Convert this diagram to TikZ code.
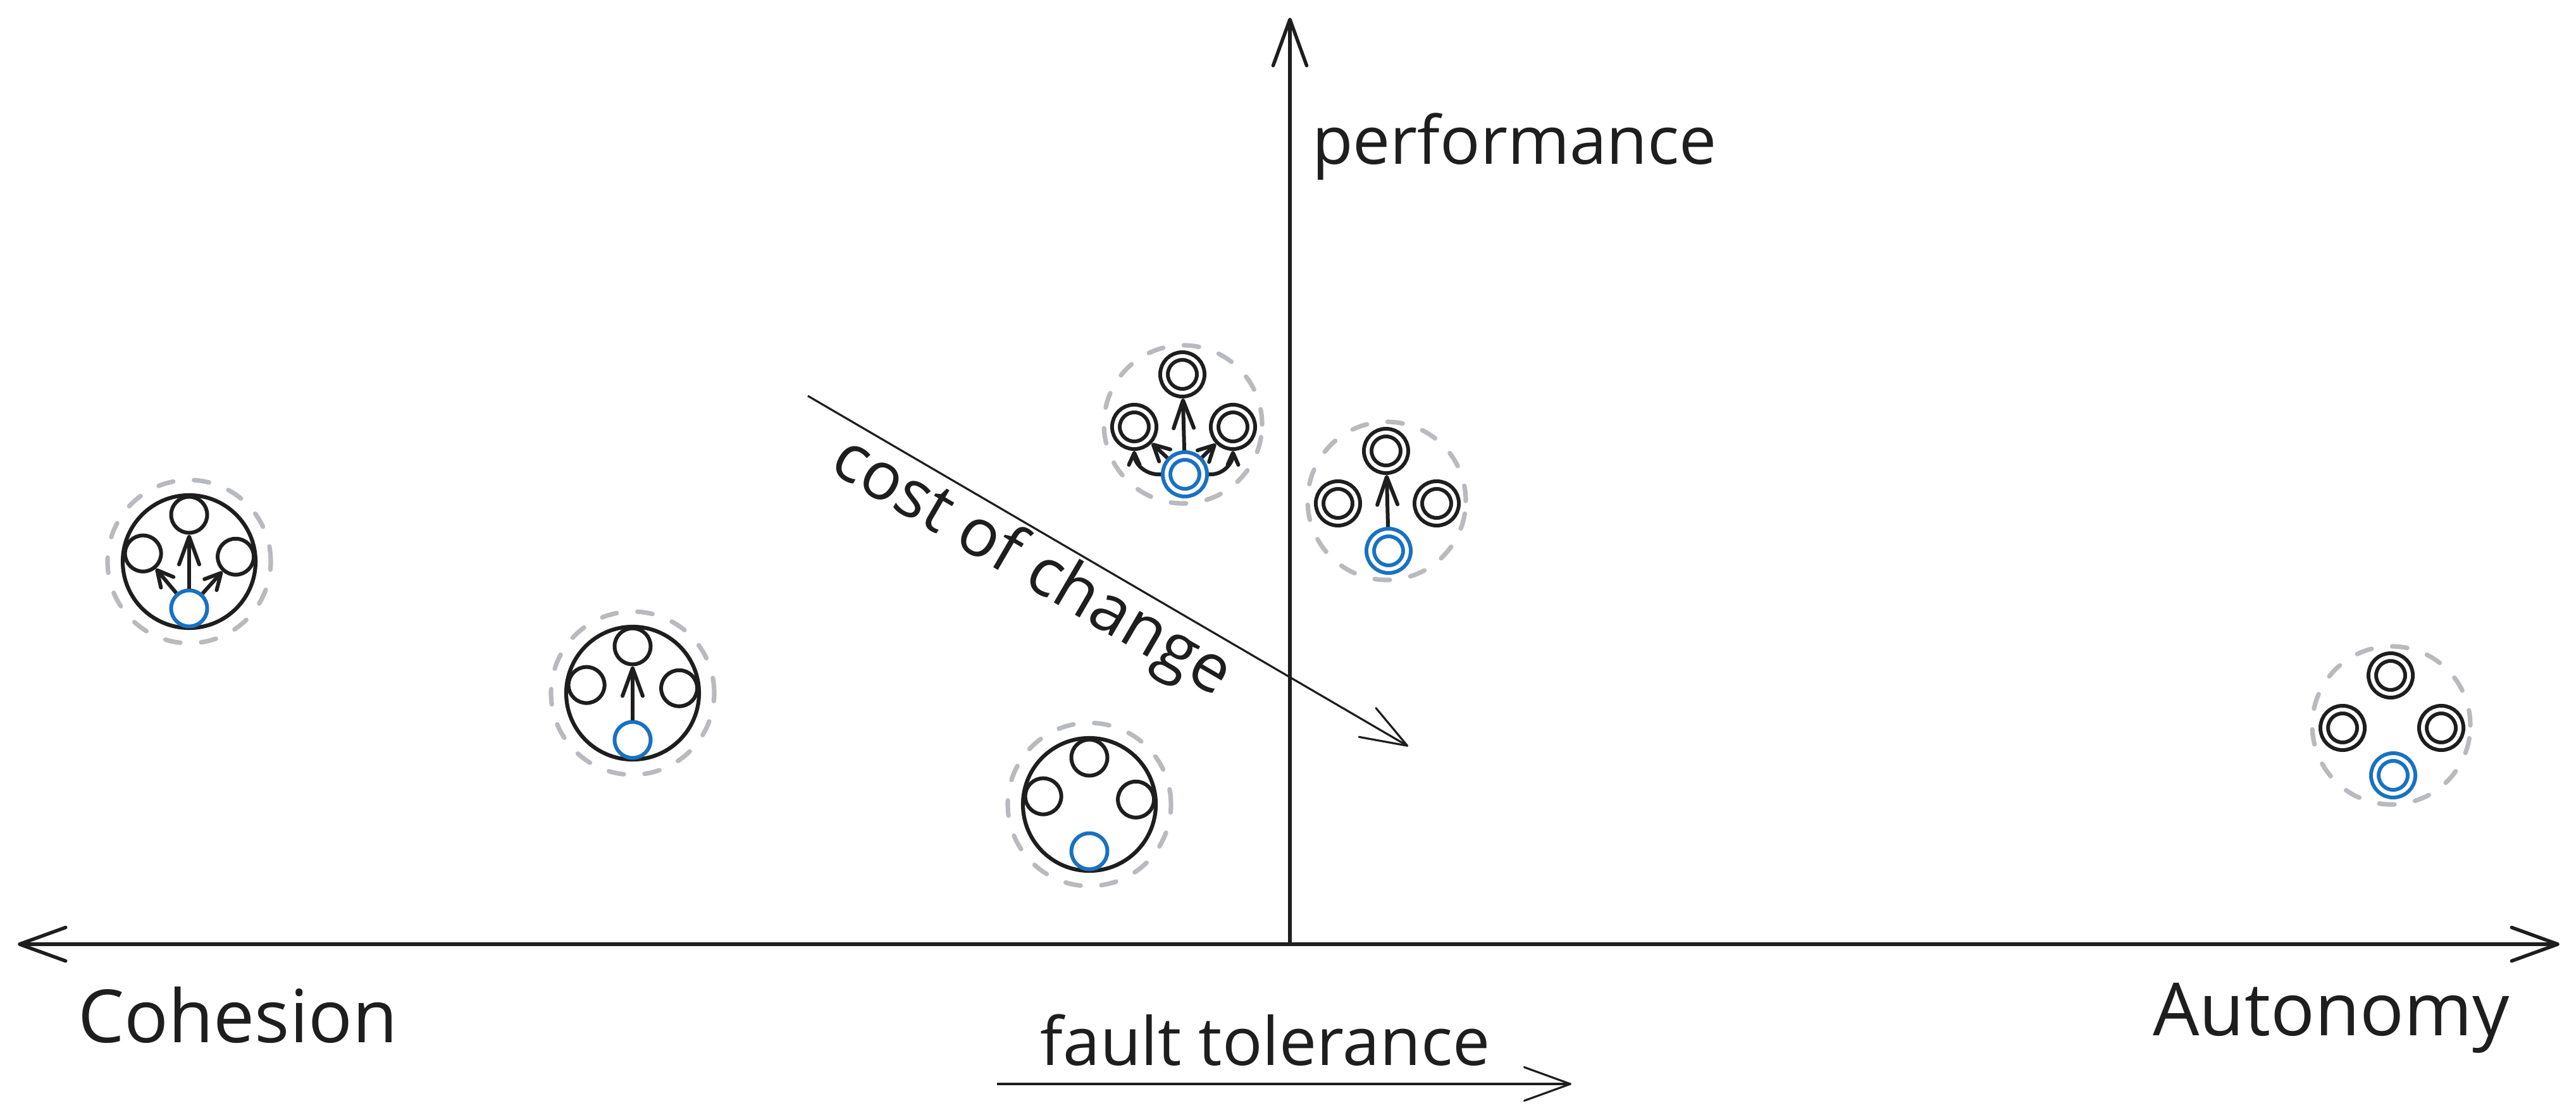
\documentclass[tikz,border=0pt]{standalone}
\usepackage{fontspec}
\setmainfont{Open Sans}
\usetikzlibrary{calc, positioning, arrows.meta}
\definecolor{ink}{HTML}{1E1E1E}
\definecolor{accent}{HTML}{1971C2}
\definecolor{halo gray}{RGB}{185,186,191}
\def\orbit{0.74cm}
\tikzstyle{unit}=[circle,draw=ink,line width=0.06cm,minimum size=0.57cm,inner sep=0pt]
\tikzstyle{source unit}=[unit, draw=accent]
\tikzstyle{service}=[unit, minimum size=0.58cm, double=white, double distance=0.06cm, outer sep=0.09cm]
\tikzstyle{source service}=[service, draw=accent]
\tikzstyle{boundary}=[circle,draw=ink,line width=0.062cm,minimum size=2.1cm,inner sep=0pt]
\tikzstyle{halo}=[circle,draw=halo gray,line width=0.072cm,line cap=round,dash pattern=on 0.24cm off 0.33cm,minimum size=2.58cm,inner sep=0pt]
\tikzstyle{small halo}=[halo, minimum size=2.5cm]
\tikzstyle{call}=[-{Straight Barb[length=0.44cm,width=0.32cm,round]}, draw=ink, line width=0.06cm]
\tikzstyle{side call}=[call, -{Straight Barb[length=0.25cm,width=0.26cm,round]}]
\tikzstyle{bent call}=[call, -{Straight Barb[length=0.19cm,width=0.17cm,round]}]
\tikzstyle{axis}=[draw=ink, line width=0.055cm]
\tikzstyle{trend}=[->, draw=ink, line width=0.032cm]
\tikzstyle{big label}=[text=ink, font=\fontsize{33}{40}\selectfont, inner sep=0pt]
\tikzstyle{small label}=[text=ink, font=\fontsize{30}{36}\selectfont, inner sep=0pt]

\begin{document}
\begin{tikzpicture}[>={Straight Barb[length=0.73cm,width=0.53cm,round]}]
\useasboundingbox (0,0) rectangle (40.72,17.51);

			% Draw the axes
			\coordinate (W) at (0.28,2.58);
			\coordinate (E) at (40.46,2.58);
			\coordinate (O) at (20.39,2.58);
			\coordinate (N) at (20.39,17.23);
			\draw[axis, <->] (W) -- (E);
			\draw[axis, ->] (O) -- (N);

			% Draw the monolith clusters
			\foreach \name / \x / \y in {M-1/2.99/8.63, M-2/10.00/6.55, M-3/17.22/4.79} {
				\node[halo] (\name-halo) at (\x,\y) {};
				\node[boundary] (\name) at (\x,\y) {};
				\node[unit] (\name-top) at ($(\name)+(90:\orbit)$) {};
				\node[unit] (\name-left) at ($(\name)+(170:\orbit)$) {};
				\node[unit] (\name-right) at ($(\name)+(6:\orbit)$) {};
				\node[source unit] (\name-src) at ($(\name)+(270:\orbit)$) {};
			}

			% Draw the service clusters
			\foreach \name / \x / \y in {S-1/18.70/10.80, S-2/21.92/9.59, S-3/37.80/6.04} {
				\node[small halo] (\name) at (\x,\y) {};
				\node[service] (\name-top) at ($(\name)+(-0.01,0.79)$) {};
				\node[service] (\name-left) at ($(\name)+(-0.77,-0.04)$) {};
				\node[service] (\name-right) at ($(\name)+(0.79,-0.04)$) {};
				\node[source service] (\name-src) at ($(\name)+(0.03,-0.79)$) {};
			}

			% Calls inside the clusters
			\draw[call] (M-1-src) -- (M-1-top);
			\foreach \dest in {left,right}
			\draw[side call] (M-1-src) -- (M-1-\dest);
			\draw[call] (M-2-src) -- (M-2-top);
			\draw[call] (S-1-src) -- (S-1-top);
			\foreach \dest in {left,right}
			\draw[side call] (S-1-src) -- (S-1-\dest);
			\draw[bent call] (S-1-src.west) to[out=185,in=-90] (S-1-left.south);
			\draw[bent call] (S-1-src.east) to[out=-5,in=-90] (S-1-right.south);
			\draw[call] (S-2-src) -- (S-2-top);

			% Trends
			\coordinate (cc-start) at (12.77,11.25);
			\coordinate (cc-end) at (22.26,5.71);
			\draw[trend] (cc-start) -- (cc-end);
			\coordinate (ft-start) at (15.76,0.37);
			\coordinate (ft-end) at (24.84,0.37);
			\draw[trend] (ft-start) -- (ft-end);

			% Annotate the axes
			\node[small label, anchor=base] (perf) at (23.94,14.91) {performance};
			\node[big label, anchor=base] (coh) at (3.76,1.03) {Cohesion};
			\node[big label, anchor=base] (aut) at (36.85,1.14) {Autonomy};
			\node[small label, anchor=base] (ft) at (20.00,0.67) {fault tolerance};
			\node[small label, anchor=mid, rotate=-30.27] (coc) at (16.20,8.36) {cost of change};
\end{tikzpicture}
\end{document}
